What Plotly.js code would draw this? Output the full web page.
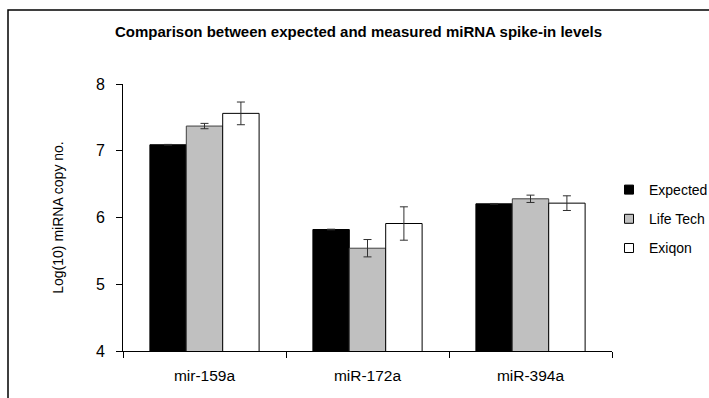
<!DOCTYPE html>
<html><head><meta charset="utf-8">
<script src="https://cdn.plot.ly/plotly-3.0.1.min.js"></script>
<style>html,body{margin:0;padding:0;background:#fff}</style>
</head><body><div id="chart" style="width:709px;height:398px"></div>
<script>
const categories = ["mir-159a", "miR-172a", "miR-394a"];
const seriesNames = ["Expected", "Life Tech", "Exiqon"];
const expected = [7.09, 5.82, 6.205];
const expectedErr = [0.005, 0.005, 0.005];
const lifeTech = [7.37, 5.54, 6.28];
const lifeTechErr = [0.04, 0.13, 0.055];
const exiqon = [7.56, 5.91, 6.215];
const exiqonErr = [0.17, 0.25, 0.11];
const yTicks = [4, 5, 6, 7, 8];

const fills = ["#000000", "#c0c0c0", "#ffffff"];
const outlines = ["#000000", "#404040", "#000000"];
const vals = [expected, lifeTech, exiqon];
const errs = [expectedErr, lifeTechErr, exiqonErr];

const traces = seriesNames.map((n, i) => ({
  type: "bar", name: n, x: categories, y: vals[i], showlegend: false,
  marker: {color: fills[i], line: {color: outlines[i], width: 1}},
  error_y: {type: "data", array: errs[i], visible: true, color: "#303030", thickness: 1, width: 4}
}));
// legend entries (square swatches like the reference)
seriesNames.forEach((n, i) => traces.push({
  type: "scatter", mode: "markers", name: n, x: [null], y: [null], legendgroup: "g" + i,
  marker: {symbol: "square", size: 9, color: fills[i], line: {color: "#000", width: 1}}
}));

const L = 123, R = 612, T = 84, B = 351, W = 709, H = 398;
const px = x => (x - L) / (R - L);
const py = y => (B - y) / (B - T);

const layout = {
  width: W, height: H,
  margin: {l: L, r: W - R, t: T, b: H - B, pad: 0, autoexpand: false},
  paper_bgcolor: "#fff", plot_bgcolor: "#fff",
  font: {family: "Liberation Sans, Arial, sans-serif", color: "#000"},
  barmode: "group", bargap: 0.33, bargroupgap: 0,
  showlegend: true,
  legend: {x: px(609), xanchor: "left", y: py(174), yanchor: "top",
           font: {size: 14, color: "#000"}, bgcolor: "rgba(0,0,0,0)", itemwidth: 30,
           tracegroupgap: 8, traceorder: "grouped"},
  xaxis: {type: "category", showline: true, linecolor: "#000", linewidth: 1,
          ticks: "outside", ticklen: 6, tickcolor: "#000", tickson: "boundaries",
          ticklabelstandoff: 10, automargin: false,
          tickfont: {size: 15.5, color: "#000"}, showgrid: false, zeroline: false},
  yaxis: {range: [4, 8], tickvals: yTicks, ticktext: yTicks.map(String),
          showline: true, linecolor: "#000", linewidth: 1, automargin: false,
          ticks: "outside", ticklen: 6, tickcolor: "#000", ticklabelstandoff: 8,
          tickfont: {size: 16, color: "#000"}, showgrid: false, zeroline: false,
          title: {text: "Log(10) miRNA copy no.", font: {size: 14, color: "#000"}, standoff: 28}},
  annotations: [{text: "<b>Comparison between expected and measured miRNA spike-in levels</b>",
                 xref: "paper", yref: "paper", x: px(358), y: py(32), xanchor: "center", yanchor: "middle",
                 showarrow: false, font: {size: 15, color: "#000"}}],
  shapes: [{type: "rect", xref: "paper", yref: "paper",
            x0: px(8), x1: px(730), y0: py(10), y1: py(420),
            line: {color: "#000", width: 1.5}, fillcolor: "rgba(0,0,0,0)", layer: "below"}]
};
Plotly.newPlot("chart", traces, layout, {displayModeBar: false, staticPlot: true});
</script></body></html>
